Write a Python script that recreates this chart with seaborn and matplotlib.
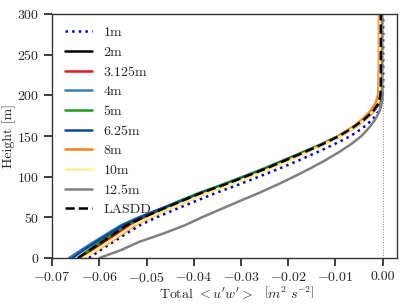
#! /usr/bin/env python3

import matplotlib
matplotlib.use('Agg')

import matplotlib.pyplot as plt
import numpy as np
import pandas as pd
import seaborn as sns

height = [0, 10, 20, 30, 40, 50, 60, 70, 80, 90, 100, 110, 120, 130, 140,
          150, 160, 170, 180, 190, 200, 210, 250, 300]

uw_1m = [-0.0622, -0.0597, -0.0570, -0.0543, -0.0515, -0.0479, -0.0438, -0.0396,
         -0.0353, -0.0306, -0.0262, -0.0219, -0.0178, -0.0139, -0.0102, -0.0068,
         -0.0042, -0.0022, -0.0009, -0.0002, 0.0000, 0.0001, 0.0001, 0.0001]
uw_2m = [-0.0642, -0.0617, -0.0591, -0.0565, -0.0540, -0.0504, -0.0464, -0.0423,
         -0.0381, -0.0333, -0.0288, -0.0244, -0.0203, -0.0163, -0.0125, -0.0090,
         -0.0062, -0.0038, -0.0020, -0.0008, -0.0004, -0.0003, -0.0003, -0.0003]
uw_3125m = [-0.0641, -0.0615, -0.0589, -0.0563, -0.0537, -0.0502, -0.0462, -0.0421,
            -0.0379, -0.0331, -0.0286, -0.0242, -0.0201, -0.0162, -0.0124, -0.0089,
            -0.0061, -0.0038, -0.0020, -0.0008, -0.0004, -0.0003, -0.0003, -0.0003]
uw_4m = [-0.0664, -0.0638, -0.0611, -0.0583, -0.0555, -0.0517, -0.0473, -0.0428,
         -0.0383, -0.0334, -0.0288, -0.0244, -0.0203, -0.0164, -0.0126, -0.0092,
         -0.0064, -0.0040, -0.0022, -0.0010, -0.0005, -0.0005, -0.0005, -0.0005]
uw_5m = [-0.0645, -0.0622, -0.0597, -0.0571, -0.0546, -0.0511, -0.0471, -0.0431,
         -0.0389, -0.0341, -0.0296, -0.0252, -0.0211, -0.0170, -0.0130, -0.0094,
         -0.0065, -0.0040, -0.0021, -0.0009, -0.0004, -0.0004, -0.0004, -0.0004]
uw_625m = [-0.0657, -0.0633, -0.0606, -0.0579, -0.0551, -0.0514, -0.0471, -0.0427,
           -0.0383, -0.0335, -0.0290, -0.0246, -0.0205, -0.0165, -0.0127, -0.0092,
           -0.0063, -0.0040, -0.0021, -0.0009, -0.0005, -0.0004, -0.0004, -0.0004]
uw_8m = [-0.0637, -0.0604, -0.0577, -0.0551, -0.0526, -0.0492, -0.0454, -0.0414,
         -0.0373, -0.0326, -0.0282, -0.0240, -0.0201, -0.0163, -0.0127, -0.0094,
         -0.0066, -0.0044, -0.0027, -0.0015, -0.0010, -0.0009, -0.0008, -0.0008]
uw_10m = [-0.0634, -0.0606, -0.0580, -0.0554, -0.0529, -0.0494, -0.0455, -0.0414,
          -0.0372, -0.0325, -0.0280, -0.0237, -0.0197, -0.0159, -0.0122, -0.0088,
          -0.0061, -0.0038, -0.0021, -0.0010, -0.0006, -0.0006, -0.0006, -0.0006]
uw_125m = [-0.0600, -0.0553, -0.0515, -0.0465, -0.0420, -0.0383, -0.0343, -0.0303,
           -0.0262, -0.0224, -0.0188, -0.0154, -0.0122, -0.0093, -0.0067, -0.0045,
           -0.0029, -0.0016, -0.0007, -0.0002, 0.0000, -0.0001, -0.0001, -0.0001]
uw_lasdd = [-0.0645, -0.0620, -0.0594, -0.0568, -0.0543, -0.0507, -0.0467, -0.0426,
            -0.0384, -0.0336, -0.0291, -0.0247, -0.0206, -0.0166, -0.0127, -0.0092,
            -0.0064, -0.0040, -0.0021, -0.0009, -0.0005, -0.0004, -0.0004, -0.0004]

series = [
    ('1m', uw_1m, '#0000cc', ':'),
    ('2m', uw_2m, 'black', '-'),
    ('3.125m', uw_3125m, '#e41a1c', '-'),
    ('4m', uw_4m, '#377eb8', '-'),
    ('5m', uw_5m, '#1a9a1a', '-'),
    ('6.25m', uw_625m, '#0b4a96', '-'),
    ('8m', uw_8m, '#ff7f0e', '-'),
    ('10m', uw_10m, '#fbef96', '-'),
    ('12.5m', uw_125m, 'gray', '-'),
    ('LASDD', uw_lasdd, 'black', '--'),
]

sns.set_theme(style='ticks')
plt.rcParams.update({
    'font.family': 'serif',
    'font.serif': ['cmr10'],
    'mathtext.fontset': 'cm',
    'axes.formatter.use_mathtext': True,
    'font.size': 10,
    'axes.labelsize': 10,
    'xtick.labelsize': 10,
    'ytick.labelsize': 10,
    'legend.fontsize': 10,
    'axes.edgecolor': '#333333',
    'axes.linewidth': 1.0,
})

fig = plt.figure(figsize=(4.07, 3.05), dpi=100)
ax = fig.add_axes([0.128, 0.154, 0.847, 0.8])

for label, vals, color, ls in series:
    df = pd.DataFrame({'uw': vals, 'z': height})
    sns.lineplot(data=df, x='uw', y='z', sort=False, estimator=None,
                 color=color, linestyle=ls, linewidth=1.8, label=label, ax=ax)

ax.axvline(0.0, color='#5b8fc7', linestyle=':', linewidth=0.7)

ax.set_xlim(-0.07, 0.003)
ax.set_ylim(0, 300)
xt = np.arange(-0.07, 0.001, 0.01)
ax.set_xticks(xt)
ax.set_xticklabels([f'$-${abs(t):.2f}' if t < -1e-9 else '0.00' for t in xt])
ax.set_yticks(range(0, 301, 50))
ax.set_xlabel(r"Total $< u'w' >$  $\left[m^2\ s^{-2}\right]$")
ax.set_ylabel('Height [m]')
ax.xaxis.set_label_coords(0.536, -0.108)
ax.yaxis.set_label_coords(-0.106, 0.5)

ax.legend(loc='upper left', frameon=False)

plt.savefig('out.png', dpi=100)
